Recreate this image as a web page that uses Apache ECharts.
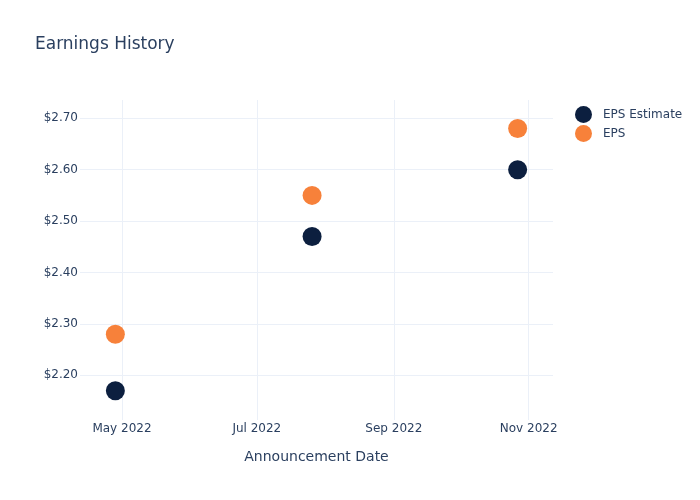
<!DOCTYPE html>
<html><head><meta charset="utf-8">
<script src="https://cdn.jsdelivr.net/npm/echarts@6/dist/echarts.min.js"></script>
<style>html,body{margin:0;padding:0;background:#fff}#c{width:700px;height:500px}</style>
</head><body><div id="c"></div>
<script>
const dates = ['2022-04-28', '2022-07-26', '2022-10-27'];
const epsEstimate = [2.17, 2.47, 2.60];
const eps = [2.28, 2.55, 2.68];
const xTicks = ['2022-05-01', '2022-07-01', '2022-09-01', '2022-11-01'];
const yTicks = [2.2, 2.3, 2.4, 2.5, 2.6, 2.7];
const months = ['Jan','Feb','Mar','Apr','May','Jun','Jul','Aug','Sep','Oct','Nov','Dec'];
const FONT = 'DejaVu Sans, Verdana, sans-serif';
const TXT = '#2a3f5f';
const GRID = '#ebf0f8';
const ts = d => new Date(d + 'T00:00:00Z').getTime();

const chart = echarts.init(document.getElementById('c'), null, {renderer: 'canvas'});
chart.setOption({
  backgroundColor: '#fff',
  animation: false,
  textStyle: {fontFamily: FONT},
  title: {text: 'Earnings History', left: 35, top: 36, padding: 0,
    textStyle: {fontFamily: FONT, fontSize: 17, fontWeight: 'normal', color: TXT}},
  legend: {
    orient: 'vertical', left: 575, top: 106, padding: 0, icon: 'circle',
    itemWidth: 17, itemHeight: 17, itemGap: 2,
    textStyle: {fontFamily: FONT, fontSize: 12, color: TXT, padding: [0, 0, 0, 6]},
    data: ['EPS Estimate', 'EPS']
  },
  grid: {left: 80, right: 147, top: 100, bottom: 80, containLabel: false},
  xAxis: {
    type: 'value', min: ts('2022-04-12'), max: ts('2022-11-12'),
    name: 'Announcement Date', nameLocation: 'middle', nameGap: 30,
    nameTextStyle: {fontFamily: FONT, fontSize: 14, color: TXT},
    axisLine: {show: false}, axisTick: {show: false, customValues: xTicks.map(ts)},
    axisLabel: {customValues: xTicks.map(ts), margin: 3, fontFamily: FONT, fontSize: 12, color: TXT,
      formatter: v => { const d = new Date(v); return months[d.getUTCMonth()] + ' ' + d.getUTCFullYear(); }},
    splitLine: {show: true, lineStyle: {color: GRID, width: 1}}
  },
  yAxis: {
    type: 'value', min: 2.113, max: 2.7356,
    axisLine: {show: false}, axisTick: {show: false, customValues: yTicks},
    axisLabel: {customValues: yTicks, margin: 2, fontFamily: FONT, fontSize: 12, color: TXT,
      formatter: v => '$' + v.toFixed(2)},
    splitLine: {show: true, lineStyle: {color: GRID, width: 1}}
  },
  series: [
    {name: 'EPS Estimate', type: 'scatter', symbolSize: 19, itemStyle: {color: '#0c1f3f', opacity: 1},
      data: dates.map((d, i) => [ts(d), epsEstimate[i]])},
    {name: 'EPS', type: 'scatter', symbolSize: 19, itemStyle: {color: '#f7813a', opacity: 1},
      data: dates.map((d, i) => [ts(d), eps[i]])}
  ]
});
</script></body></html>
